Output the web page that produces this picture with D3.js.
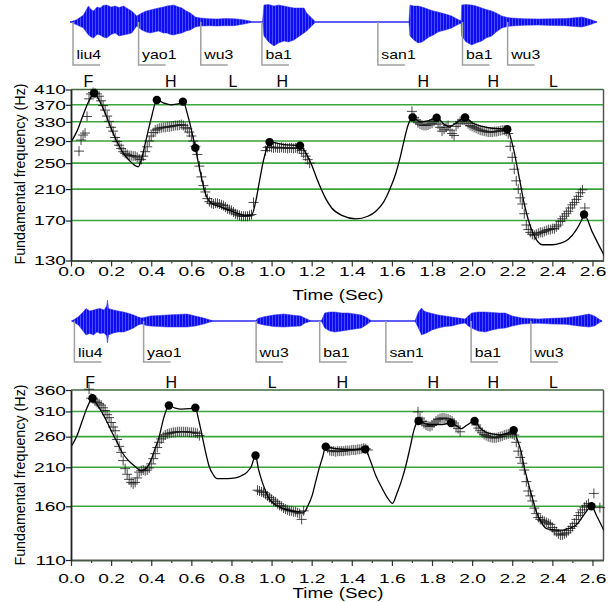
<!DOCTYPE html>
<html><head><meta charset="utf-8">
<script src="https://cdn.jsdelivr.net/npm/d3@7"></script>
<style>
body{margin:0;background:#fff}
svg{display:block}
text{font-family:"Liberation Sans",Arial,Helvetica,sans-serif;fill:#000}
</style>
</head><body>
<svg id="c" width="608" height="602"></svg>
<script>
// ---------------- DATA ----------------
const timeTicks = [0,0.2,0.4,0.6,0.8,1.0,1.2,1.4,1.6,1.8,2.0,2.2,2.4,2.6];
const timeMinorTicks = [0.1,0.3,0.5,0.7,0.9,1.1,1.3,1.5,1.7,1.9,2.1,2.3,2.5];
const topHzTicks = [130,170,210,250,290,330,370,410];
const botHzTicks = [110,160,210,260,310,360];

const syllables = ["liu4","yao1","wu3","ba1","san1","ba1","wu3"];
const topSylTimes = [0.01,0.337,0.647,0.952,1.53,1.952,2.177];
const botSylTimes = [0.017,0.362,0.923,1.24,1.57,1.995,2.293];

const tones = ["F","H","L","H","H","H","L"];
const topToneTimes = [0.087,0.498,0.807,1.053,1.756,2.106,2.406];
const botToneTimes = [0.095,0.5,1.003,1.353,1.806,2.106,2.406];

// waveform envelopes: [time, upper amplitude, lower amplitude]
const topWave = [[-0.005,0,0],[0.028,0.09,0.11],[0.062,0.28,0.24],[0.087,0.64,0.52],[0.10,0.5,0.6],[0.112,0.44,0.64],[0.13,0.6,0.5],[0.145,0.56,0.52],[0.16,0.66,0.6],[0.178,0.68,0.64],[0.2,0.6,0.5],[0.22,0.64,0.44],[0.24,0.58,0.56],[0.262,0.64,0.52],[0.285,0.52,0.48],[0.303,0.44,0.44],[0.328,0.24,0.16],[0.353,0.36,0.32],[0.375,0.44,0.4],[0.395,0.48,0.44],[0.415,0.52,0.4],[0.437,0.56,0.36],[0.46,0.6,0.44],[0.478,0.64,0.44],[0.495,0.66,0.5],[0.512,0.68,0.52],[0.53,0.62,0.48],[0.553,0.56,0.44],[0.575,0.44,0.36],[0.595,0.36,0.32],[0.62,0.2,0.2],[0.645,0.16,0.16],[0.69,0.13,0.15],[0.728,0.12,0.16],[0.77,0.14,0.15],[0.812,0.13,0.15],[0.85,0.1,0.1],[0.887,0.05,0.04],[0.905,0,0],[0.955,0,0],[0.962,0.68,0.56],[0.985,0.7,0.8],[1.012,0.64,0.96],[1.035,0.68,0.84],[1.062,0.64,0.76],[1.085,0.6,0.8],[1.112,0.56,0.72],[1.14,0.56,0.56],[1.162,0.56,0.44],[1.175,0.36,0.36],[1.2,0.16,0.16],[1.22,0,0],[1.685,0,0],[1.69,0.68,0.56],[1.71,0.64,0.72],[1.73,0.64,0.84],[1.75,0.6,0.8],[1.765,0.56,0.72],[1.785,0.5,0.6],[1.807,0.44,0.52],[1.83,0.4,0.4],[1.848,0.36,0.36],[1.875,0.3,0.3],[1.898,0.24,0.24],[1.92,0.14,0.14],[1.935,0.08,0.08],[1.945,0.05,0.05],[1.948,0.68,0.56],[1.97,0.7,0.8],[1.998,0.68,0.92],[2.02,0.64,0.84],[2.048,0.56,0.76],[2.07,0.5,0.64],[2.098,0.44,0.56],[2.12,0.36,0.4],[2.148,0.24,0.24],[2.175,0.18,0.18],[2.198,0.16,0.16],[2.26,0.13,0.13],[2.332,0.12,0.12],[2.4,0.13,0.14],[2.465,0.14,0.15],[2.51,0.17,0.18],[2.548,0.2,0.2],[2.575,0.14,0.14],[2.598,0.08,0.08],[2.623,0,0]];
const botWave = [[0.003,0,0],[0.037,0.17,0.16],[0.06,0.36,0.4],[0.075,0.5,0.56],[0.093,0.4,0.5],[0.112,0.44,0.56],[0.13,0.48,0.44],[0.145,0.5,0.5],[0.165,0.44,0.48],[0.178,0.6,0.6],[0.182,0.84,0.88],[0.187,0.5,0.56],[0.212,0.44,0.48],[0.235,0.4,0.44],[0.262,0.36,0.44],[0.29,0.3,0.36],[0.312,0.24,0.28],[0.335,0.16,0.16],[0.353,0.12,0.12],[0.375,0.16,0.18],[0.395,0.2,0.2],[0.44,0.22,0.22],[0.478,0.24,0.24],[0.53,0.26,0.24],[0.578,0.28,0.24],[0.62,0.2,0.2],[0.662,0.12,0.12],[0.69,0.05,0.05],[0.712,0,0],[0.92,0,0],[0.93,0.1,0.1],[0.962,0.17,0.16],[1.01,0.24,0.22],[1.062,0.28,0.24],[1.1,0.24,0.22],[1.145,0.2,0.2],[1.165,0.12,0.09],[1.198,0,0],[1.248,0,0],[1.265,0.32,0.28],[1.29,0.36,0.4],[1.315,0.36,0.44],[1.35,0.32,0.4],[1.382,0.32,0.36],[1.415,0.28,0.32],[1.448,0.24,0.28],[1.475,0.14,0.14],[1.498,0,0],[1.715,0,0],[1.732,0.36,0.28],[1.748,0.52,0.56],[1.76,0.4,0.52],[1.773,0.36,0.48],[1.8,0.3,0.36],[1.832,0.24,0.28],[1.865,0.2,0.22],[1.898,0.16,0.2],[1.935,0.12,0.12],[1.965,0.08,0.08],[1.98,0.2,0.2],[1.998,0.32,0.28],[2.03,0.36,0.4],[2.065,0.36,0.44],[2.1,0.34,0.36],[2.135,0.32,0.3],[2.165,0.32,0.28],[2.2,0.2,0.2],[2.248,0.12,0.12],[2.29,0.1,0.1],[2.332,0.08,0.09],[2.4,0.11,0.12],[2.465,0.13,0.13],[2.53,0.2,0.2],[2.582,0.28,0.24],[2.61,0.2,0.2],[2.632,0.08,0.08],[2.648,0,0]];

// measured F0 (Hz), 10 ms frames, each segment with its start time
const topF0A_start = 0.04;
const topF0A = [271,292,302,306,342,385,398,402,400,398,392,380,368,357,343,331,318,310,297,289,282,276,270,267,265,263,263,262,262,260,257,256,262,270,279,290,300,307,312,314,316,317,318,318,319,319,320,321,322,322,323,324,322,318,315,308,300,290,280,265,245,228,215,206,197,193,191,190,191,191,190,189,188,186,184,183,182,180,178,177,176,175,175,175,175,176,177,192];
const topF0B_start = 0.97;
const topF0B = [272,278,279,278,277,278,277,277,278,277,277,276,277,277,276,277,276,276,272,267,262,256,250];
const topF0C_start = 1.70;
const topF0C = [354,340,334,328,325,323,322,322,323,325,327,331,334,325,318,310,314,318,322,312,305,301,320,326,331,334,334,330,326,322,320,318,316,314,312,311,310,309,308,308,308,309,309,310,311,312,312,310,305,280,260,240,222,210,198,190,178,165,160,157,155,154,155,156,157,157,158,159,160,160,161,161,163,165,169,172,175,178,181,185,189,192,196,200,205,209];
const topF0Extra = [[2.562,185]];

const botF0A_start = 0.09;
const botF0A = [362,340,338,333,330,327,324,318,312,303,297,287,278,271,255,243,233,220,208,200,193,189,187,189,195,203,205,206,205,206,209,215,223,231,241,250,256,260,263,265,266,267,268,268,269,269,269,269,269,269,268,268,268,267,266,262];
const botF0B_start = 0.93;
const botF0B = [179,178,177,176,174,172,170,168,166,165,163,161,160,158,157,156,155,155,154,154,153,152,146,155];
const botF0C_start = 1.28;
const botF0C = [240,236,235,235,234,235,235,235,235,236,236,236,237,237,237,238,238,239,240,239,237];
const botF0D_start = 1.73;
const botF0D = [309,296,289,285,282,280,279,281,286,290,293,295,296,296,295,294,292,290,286,280,275,269];
const botF0E_start = 2.02;
const botF0E = [282,276,271,267,264,262,260,259,258,258,258,259,260,261,263,264,265,266,265,263,250,235,225,216,206,190,178,172,166,158,152,148,146,145,144,143,142,141,138,135,134,132,131,131,132,133,135,137,139,142,146,150,153,156,159,161,163];
const botF0Extra = [[2.607,175],[2.637,158.5]];

// pitch targets (filled circles)
const topTargets = [[0.115,400],[0.428,382],[0.558,378],[0.62,277],[0.99,288],[1.142,281],[1.703,340],[1.823,339],[1.965,340],[2.175,314],[2.558,177]];
const botTargets = [[0.107,340],[0.488,323],[0.62,318],[0.92,228],[1.27,242.5],[1.467,238],[1.733,290],[1.895,286],[2.012,290],[2.207,272],[2.595,160]];

// model contours
const topModel = [[0,288],[0.03,310],[0.06,345],[0.09,380],[0.115,400],[0.14,382],[0.17,350],[0.2,316],[0.23,288],[0.26,268],[0.29,255],[0.335,244],[0.35,255],[0.37,285],[0.4,338],[0.428,382],[0.46,375],[0.5,370],[0.535,372],[0.558,378],[0.585,340],[0.62,277],[0.645,235],[0.67,204],[0.7,191],[0.75,186],[0.8,181],[0.85,177],[0.9,176],[0.92,192],[0.94,222],[0.96,255],[0.975,275],[0.99,288],[1.06,283],[1.142,281],[1.17,268],[1.2,247],[1.23,222],[1.27,197],[1.3,185],[1.35,176],[1.42,172],[1.48,175],[1.52,181],[1.56,193],[1.59,210],[1.62,234],[1.64,258],[1.66,290],[1.68,322],[1.703,340],[1.74,330],[1.78,332],[1.823,339],[1.86,325],[1.887,319],[1.92,327],[1.965,340],[2.0,328],[2.05,320],[2.1,316],[2.175,314],[2.2,285],[2.23,235],[2.26,190],[2.3,158],[2.33,147],[2.35,144.5],[2.4,144.5],[2.44,146],[2.48,150],[2.52,160],[2.545,170],[2.558,177],[2.6,157],[2.64,141],[2.66,134]];
const botModel = [[0,242],[0.03,262],[0.055,289],[0.08,318],[0.107,340],[0.13,325],[0.153,309],[0.18,288],[0.203,269],[0.23,250],[0.253,234],[0.29,219],[0.32,211],[0.35,205],[0.38,210],[0.403,224],[0.42,240],[0.437,256],[0.462,296],[0.488,323],[0.52,317],[0.55,315],[0.59,316],[0.62,318],[0.635,295],[0.653,263],[0.67,235],[0.687,213],[0.71,199],[0.728,194],[0.78,194],[0.82,195],[0.85,198],[0.878,203],[0.9,212],[0.92,228],[0.935,207],[0.953,190],[0.97,178],[0.987,169],[1.01,163],[1.037,159.7],[1.07,156.5],[1.103,154.6],[1.162,153.6],[1.18,160],[1.203,173],[1.22,190],[1.237,208],[1.255,226],[1.27,242.5],[1.32,239],[1.4,238],[1.467,238],[1.49,222],[1.52,198],[1.55,182],[1.58,169],[1.603,163.3],[1.625,175],[1.65,193],[1.67,213],[1.69,240],[1.712,275],[1.733,290],[1.78,283],[1.85,283],[1.895,286],[1.92,281],[1.945,275],[1.975,282],[2.012,290],[2.04,276],[2.07,268],[2.1,265],[2.14,263],[2.18,267],[2.207,272],[2.225,255],[2.245,233],[2.26,210],[2.278,190],[2.3,170],[2.32,154],[2.345,143],[2.37,137],[2.4,136],[2.453,135.5],[2.49,137.5],[2.52,140.7],[2.545,147],[2.562,152],[2.595,160],[2.62,150],[2.645,140],[2.66,134]];

// ---------------- DRAW ----------------
const svg = d3.select("#c");
const FONT_SX = 1.6;

// waveform texture (vertical striations)
const defs = svg.append("defs");
const pat = defs.append("pattern").attr("id","wavetex").attr("patternUnits","userSpaceOnUse")
  .attr("width",3).attr("height",60);
pat.append("rect").attr("width",3).attr("height",60).attr("fill","#4a4aff");
pat.append("rect").attr("width",2).attr("height",60).attr("fill","#0d0df2");

function frames(start, vals){ return vals.map((f,i)=>[+(start + i*0.01).toFixed(3), f]); }

const panels = [
  { id:"top", hzTicks: topHzTicks, domain:[130,410], yRange:[260.5,89.5], waveCy:22, wave: topWave,
    sylTimes: topSylTimes, sylBottom:65, sylBase:58.5, toneTimes: topToneTimes, toneBase:86.5,
    tickLabelBase:276, titleBase:300, yTitleCy:174,
    f0: [...frames(topF0A_start,topF0A), ...frames(topF0B_start,topF0B), ...frames(topF0C_start,topF0C), ...topF0Extra],
    targets: topTargets, model: topModel },
  { id:"bot", hzTicks: botHzTicks, domain:[110,360], yRange:[560,390], waveCy:321, wave: botWave,
    sylTimes: botSylTimes, sylBottom:362, sylBase:356.5, toneTimes: botToneTimes, toneBase:388,
    tickLabelBase:583, titleBase:598, yTitleCy:475,
    f0: [...frames(botF0A_start,botF0A), ...frames(botF0B_start,botF0B), ...frames(botF0C_start,botF0C), ...frames(botF0D_start,botF0D), ...frames(botF0E_start,botF0E), ...botF0Extra],
    targets: botTargets, model: botModel }
];

const x = d3.scaleLinear().domain([0, 2.655]).range([71, 603.5]);

panels.forEach(p => {
  const g = svg.append("g");
  const y = d3.scaleLog().domain(p.domain).range(p.yRange);
  const [yb, yt] = p.yRange;
  const xl = x.range()[0], xr = x.range()[1];

  // waveform
  const yW = d3.scaleLinear().domain([-1,1]).range([p.waveCy+25, p.waveCy-25]);
  const w0 = p.wave[0][0], w1 = p.wave[p.wave.length-1][0];
  g.append("line").attr("x1", x(w0)).attr("x2", x(w1)).attr("y1", p.waveCy).attr("y2", p.waveCy)
    .attr("stroke","#1414f0").attr("stroke-width",1.2);
  g.append("path").datum(p.wave)
    .attr("d", d3.area().x(d=>x(d[0])).y0(d=>yW(-d[2])).y1(d=>yW(d[1])))
    .attr("fill","url(#wavetex)").attr("stroke","#2a2af5").attr("stroke-width",0.5);

  // syllable brackets
  const sg = g.append("g");
  p.sylTimes.forEach((t,i) => {
    const sx = x(t);
    sg.append("path").attr("d", `M${sx},${p.waveCy}V${p.sylBottom}H${sx+27}`)
      .attr("fill","none").attr("stroke","#a0a0a0").attr("stroke-width",1.5);
    sg.append("text").attr("transform", `translate(${sx+3.5},${p.sylBase}) scale(1.22,1)`)
      .attr("font-size",13).text(syllables[i]);
  });

  // tone labels
  p.toneTimes.forEach((t,i) => {
    g.append("text").attr("x", x(t)).attr("y", p.toneBase).attr("text-anchor","middle")
      .attr("font-size",16).text(tones[i]);
  });

  // gridlines
  p.hzTicks.slice(1).forEach((v,i,arr) => {
    const isTop = i === arr.length-1;
    g.append("line").attr("x1", xl).attr("x2", xr).attr("y1", y(v)).attr("y2", y(v))
      .attr("stroke", isTop ? "#3f6b3f" : "#3aa53a").attr("stroke-width", 1.6);
  });

  // right frame
  g.append("line").attr("x1", xr).attr("x2", xr).attr("y1", yt).attr("y2", yb)
    .attr("stroke","#555").attr("stroke-width",1.5);

  // clip for model
  const cid = "clip-"+p.id;
  svg.append("clipPath").attr("id",cid).append("rect")
    .attr("x", xl).attr("y", yt-30).attr("width", xr-xl).attr("height", yb-yt+30);

  // measured F0 crosses
  g.append("g").selectAll("path").data(p.f0).join("path")
    .attr("d", d => `M${x(d[0])-5},${y(d[1])}h10M${x(d[0])},${y(d[1])-5}v10`)
    .attr("stroke","#1a1a1a").attr("stroke-width",1).attr("stroke-opacity",0.8).attr("fill","none");

  // model contour
  g.append("path").datum(p.model).attr("clip-path", `url(#${cid})`)
    .attr("d", d3.line().x(d=>x(d[0])).y(d=>y(d[1])).curve(d3.curveMonotoneX))
    .attr("fill","none").attr("stroke","#000").attr("stroke-width",1.3);

  // targets
  g.append("g").selectAll("circle").data(p.targets).join("circle")
    .attr("cx", d=>x(d[0])).attr("cy", d=>y(d[1])).attr("r",4.2).attr("fill","#000");

  // x axis
  const xaMinor = g.append("g").attr("transform", `translate(0,${yb})`)
    .call(d3.axisBottom(x).tickValues(timeMinorTicks).tickSize(3).tickFormat(""));
  xaMinor.select(".domain").remove();
  xaMinor.selectAll("line").attr("stroke","#333").attr("stroke-width",1.2);
  const xa = g.append("g").attr("transform", `translate(0,${yb})`)
    .call(d3.axisBottom(x).tickValues(timeTicks).tickSize(6).tickSizeOuter(0).tickFormat(d3.format(".1f")));
  xa.select(".domain").attr("stroke","#4a5a4a").attr("stroke-width",1.8);
  xa.selectAll(".tick line").attr("stroke","#333").attr("stroke-width",1.2);
  xa.selectAll(".tick text").attr("y",null).attr("dy",null)
    .attr("transform", `translate(0,${p.tickLabelBase-yb}) scale(${FONT_SX},1)`)
    .attr("font-size",12).attr("font-family",null).attr("fill","#000");

  // y axis
  const ya = g.append("g").attr("transform", `translate(${xl},0)`)
    .call(d3.axisLeft(y).tickValues(p.hzTicks).tickSize(5).tickSizeOuter(0).tickFormat(d3.format("d")));
  ya.select(".domain").attr("stroke","#222").attr("stroke-width",1.8);
  ya.selectAll(".tick line").attr("stroke","#222").attr("stroke-width",1.2);
  ya.selectAll(".tick text").attr("x",null).attr("dy","0.36em")
    .attr("transform", `translate(-5,0) scale(${FONT_SX},1)`)
    .attr("font-size",12).attr("font-family",null).attr("fill","#000");

  // titles
  g.append("text").attr("transform", `translate(338,${p.titleBase}) scale(1.25,1)`)
    .attr("text-anchor","middle").attr("font-size",15).text("Time (Sec)");
  g.append("text").attr("transform", `translate(25,${p.yTitleCy}) rotate(-90)`)
    .attr("text-anchor","middle").attr("font-size",14.3).text("Fundamental frequency (Hz)");
});
</script>
</body></html>
